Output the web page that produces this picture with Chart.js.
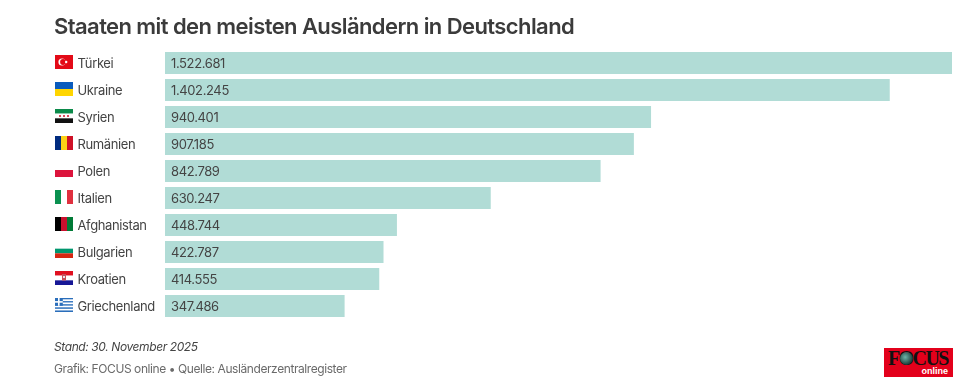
<!DOCTYPE html>
<html lang="de">
<head>
<meta charset="utf-8">
<title>Staaten mit den meisten Ausländern in Deutschland</title>
<script src="https://cdn.jsdelivr.net/npm/chart.js@4"></script>
<style>
html,body{margin:0;padding:0;background:#fff;width:980px;height:388px;overflow:hidden;font-family:Inter,sans-serif}
#wrap{position:relative;width:980px;height:388px}
#c{position:absolute;left:0;top:0}
.t{position:absolute;white-space:nowrap}
#title{left:54px;top:12px;font-size:22px;line-height:28px;font-weight:600;color:#3b3b3b;letter-spacing:-.58px}
#stand{left:54px;top:339px;font-size:12px;line-height:16px;font-style:italic;color:#444;letter-spacing:-.4px}
#src{left:54px;top:361px;font-size:12px;line-height:16px;color:#6a6a6a;letter-spacing:-.42px}
#logo{position:absolute;left:884px;top:348px;width:69px;height:29px;background:#e3001b;overflow:hidden}
#logo .f{position:absolute;left:4px;top:-1px;font:700 20px/22px "Liberation Serif",serif;color:#111;letter-spacing:-1.6px}
#logo .g{position:absolute;left:16px;top:3.5px;width:13px;height:13px;border-radius:50%;background:radial-gradient(circle at 40% 40%,#6fb5a8,#14322e 75%)}
#logo .o{position:absolute;right:5px;bottom:1px;font:700 9px/10px "Liberation Sans",sans-serif;color:#fff}
</style>
</head>
<body>
<div id="wrap">
<canvas id="c" width="980" height="388"></canvas>
<div class="t" id="title">Staaten mit den meisten Ausländern in Deutschland</div>
<div class="t" id="stand">Stand: 30. November 2025</div>
<div class="t" id="src">Grafik: FOCUS online • Quelle: Ausländerzentralregister</div>
<div id="logo"><div class="f">FOCUS</div><div class="g"></div><div class="o">online</div></div>
</div>
<script>
const categories = ["Türkei","Ukraine","Syrien","Rumänien","Polen","Italien","Afghanistan","Bulgarien","Kroatien","Griechenland"];
const auslaender = [1522681,1402245,940401,907185,842789,630247,448744,422787,414555,347486];
const valueLabels = ["1.522.681","1.402.245","940.401","907.185","842.789","630.247","448.744","422.787","414.555","347.486"];

function hStripes(ctx,x,y,w,h,cols){const s=h/cols.length;cols.forEach((c,i)=>{ctx.fillStyle=c;ctx.fillRect(x,y+i*s,w,s);});}
function vStripes(ctx,x,y,w,h,cols){const s=w/cols.length;cols.forEach((c,i)=>{ctx.fillStyle=c;ctx.fillRect(x+i*s,y,s,h);});}
const flagPainters = {
  "Türkei":(c,x,y,w,h)=>{c.fillStyle="#e30a17";c.fillRect(x,y,w,h);
    c.fillStyle="#fff";c.beginPath();c.arc(x+7,y+h/2,3.6,0,7);c.fill();
    c.fillStyle="#e30a17";c.beginPath();c.arc(x+8,y+h/2,2.9,0,7);c.fill();
    c.fillStyle="#fff";c.beginPath();c.arc(x+11.2,y+h/2,1.2,0,7);c.fill();},
  "Ukraine":(c,x,y,w,h)=>hStripes(c,x,y,w,h,["#0a5bbd","#ffd500"]),
  "Syrien":(c,x,y,w,h)=>{hStripes(c,x,y,w,h,["#0b8a4a","#fff","#111"]);
    c.fillStyle="#ce1126";[5,9,13].forEach(d=>{c.beginPath();c.arc(x+d,y+h/2,1,0,7);c.fill();});},
  "Rumänien":(c,x,y,w,h)=>vStripes(c,x,y,w,h,["#002b7f","#fcd116","#ce1126"]),
  "Polen":(c,x,y,w,h)=>hStripes(c,x,y,w,h,["#fff","#dc143c"]),
  "Italien":(c,x,y,w,h)=>vStripes(c,x,y,w,h,["#0a9150","#fff","#e0303f"]),
  "Afghanistan":(c,x,y,w,h)=>vStripes(c,x,y,w,h,["#000","#c8102e","#007a36"]),
  "Bulgarien":(c,x,y,w,h)=>hStripes(c,x,y,w,h,["#fff","#00966e","#d62612"]),
  "Kroatien":(c,x,y,w,h)=>{hStripes(c,x,y,w,h,["#e01020","#fff","#171796"]);
    c.fillStyle="#c8505a";c.fillRect(x+7,y+3,4,6.5);c.fillStyle="#e8e8ee";c.fillRect(x+8,y+5,2,2);},
  "Griechenland":(c,x,y,w,h)=>{hStripes(c,x,y,w,h,["#2a6ebb","#fff","#2a6ebb","#fff","#2a6ebb","#fff","#2a6ebb","#fff","#2a6ebb"]);
    c.fillStyle="#2a6ebb";c.fillRect(x,y,7.8,7.8);c.fillStyle="#fff";c.fillRect(x+3,y,1.6,7.8);c.fillRect(x,y+3.1,7.8,1.6);}
};

const annotate = {
  id:"annotate",
  beforeDraw(chart){chart.ctx.letterSpacing="-0.38px";},
  afterDatasetsDraw(chart){
    const {ctx,scales:{x:xs,y:ys}}=chart;
    ctx.save();
    ctx.font='13px Inter, sans-serif';
    ctx.fillStyle="#444";
    ctx.textAlign="left";ctx.textBaseline="middle";
    valueLabels.forEach((t,i)=>ctx.fillText(t,xs.getPixelForValue(0)+6,ys.getPixelForValue(i)+1.2));
    categories.forEach((n,i)=>{
      const cy=ys.getPixelForValue(i)-1;
      flagPainters[n](ctx,55,cy-7,18,14);
    });
    ctx.restore();
  }
};

new Chart(document.getElementById("c"),{
  type:"bar",
  data:{labels:categories,datasets:[{data:auslaender,backgroundColor:"#b1dcd6",borderWidth:0,barPercentage:22/27,categoryPercentage:1}]},
  plugins:[annotate],
  options:{
    indexAxis:"y",responsive:false,animation:false,
    layout:{padding:{left:77.5,right:28,top:49.5,bottom:68.5}},
    plugins:{legend:{display:false},tooltip:{enabled:false}},
    scales:{
      x:{display:false,min:0,max:1522681},
      y:{
        afterFit(s){s.width=87.5;},
        grid:{display:false},border:{display:false},
        ticks:{crossAlign:"far",color:"#444",padding:0,labelOffset:0.8,autoSkip:false,font:{family:"Inter, sans-serif",size:13}}
      }
    }
  }
});
</script>
</body>
</html>
